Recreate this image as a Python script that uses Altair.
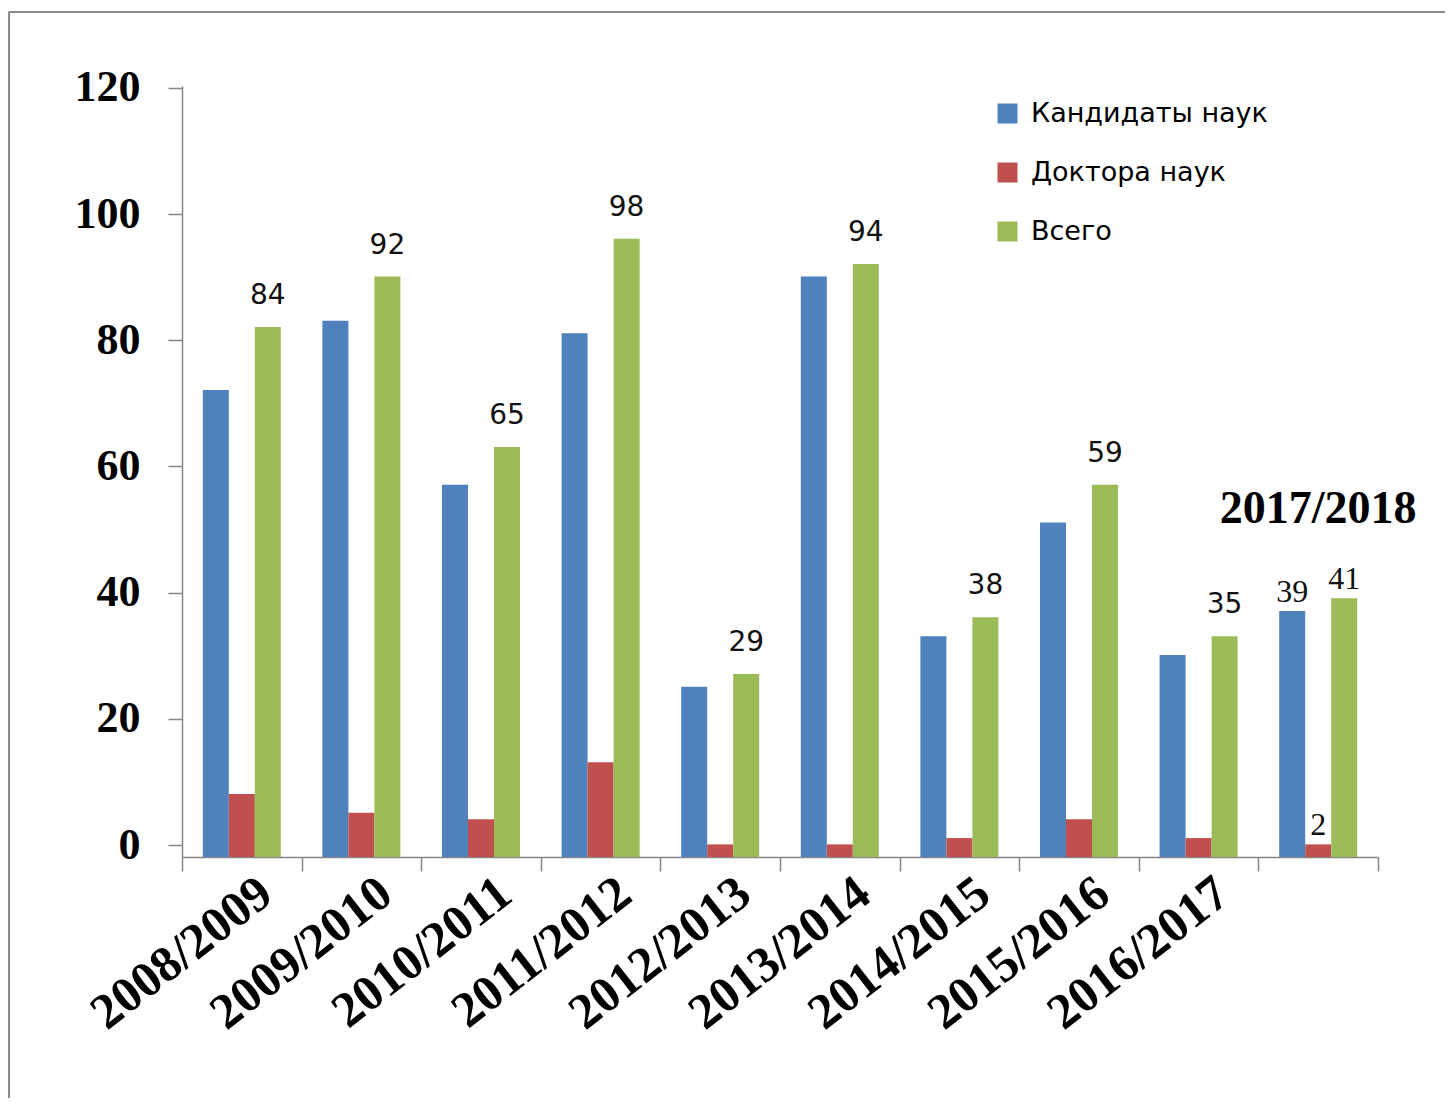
import altair as alt
import pandas as pd

categories = ["2008/2009", "2009/2010", "2010/2011", "2011/2012", "2012/2013",
              "2013/2014", "2014/2015", "2015/2016", "2016/2017", "2017/2018"]
series_names = ["Кандидаты наук", "Доктора наук", "Всего"]
candidates = [74, 85, 59, 83, 27, 92, 35, 53, 32, 39]
doctors = [10, 7, 6, 15, 2, 2, 3, 6, 3, 2]
totals = [84, 92, 65, 98, 29, 94, 38, 59, 35, 41]
colors = ["#4F81BD", "#C0504D", "#9BBB59"]
y_ticks = [0, 20, 40, 60, 80, 100, 120]
last_cat = "2017/2018"

rows = []
for s, vals in zip(series_names, [candidates, doctors, totals]):
    for c, v in zip(categories, vals):
        rows.append({"category": c, "series": s, "value": v})
df = pd.DataFrame(rows)

green_labels = df[(df["series"] == "Всего") & (df["category"] != last_cat)]
last_labels = df[df["category"] == last_cat]

x_enc = alt.X("category:N", sort=categories,
              scale=alt.Scale(paddingInner=0, paddingOuter=0),
              axis=alt.Axis(title=None, labelAngle=322, labelAlign="right",
                            labelBaseline="middle", labelOffset=24,
                            labelPadding=16, labelFont="Liberation Serif",
                            labelFontWeight="bold", labelFontSize=50,
                            labelColor="#000000", labelLimit=500,
                            labelOverlap=False, tickBand="extent",
                            tickSize=14, tickColor="#868686",
                            domainColor="#868686", domainWidth=1.5,
                            tickWidth=1.5,
                            labelExpr="datum.label == '2017/2018' ? '' : datum.label"))
xoff_enc = alt.XOffset("series:N", sort=series_names,
                       scale=alt.Scale(domain=series_names, paddingInner=0, paddingOuter=0.8))
y_enc = alt.Y("value:Q",
              scale=alt.Scale(domain=[0, 122.2], nice=False, zero=True),
              axis=alt.Axis(title=None, values=y_ticks, grid=False,
                            tickOffset=-12, tickSize=14, labelPadding=28,
                            labelFont="Liberation Serif", labelFontWeight="bold",
                            labelFontSize=44, labelColor="#000000",
                            tickColor="#868686", domainColor="#868686",
                            domainWidth=1.5, tickWidth=1.5))

bars = alt.Chart(df).mark_bar().encode(
    x=x_enc,
    xOffset=xoff_enc,
    y=y_enc,
    color=alt.Color("series:N", sort=series_names,
                    scale=alt.Scale(domain=series_names, range=colors),
                    legend=alt.Legend(title=None, orient="none", legendX=812,
                                      legendY=14, labelFont="DejaVu Sans",
                                      labelFontSize=27, labelColor="#000000",
                                      labelLimit=500,
                                      symbolType="square", symbolSize=400,
                                      symbolStrokeWidth=0, rowPadding=31,
                                      labelOffset=10)),
)

green_text = alt.Chart(green_labels).mark_text(
    font="DejaVu Sans", fontSize=28, color="#111111", baseline="alphabetic", dy=-23
).encode(
    x=alt.X("category:N", sort=categories),
    xOffset=alt.XOffset("series:N", sort=series_names),
    y=alt.Y("value:Q"),
    text=alt.Text("value:Q"),
)

last_text = alt.Chart(last_labels).mark_text(
    font="Liberation Serif", fontSize=32, color="#111111", baseline="alphabetic", dy=-9
).encode(
    x=alt.X("category:N", sort=categories),
    xOffset=alt.XOffset("series:N", sort=series_names),
    y=alt.Y("value:Q"),
    text=alt.Text("value:Q"),
)

title_df = pd.DataFrame({"category": [last_cat], "label": [last_cat]})
last_title = alt.Chart(title_df).mark_text(
    font="Liberation Serif", fontSize=46, fontWeight="bold", color="#000000",
    baseline="alphabetic"
).encode(
    x=alt.X("category:N", sort=categories),
    y=alt.value(437),
    text="label:N",
)

frame_df = pd.DataFrame({"k": [0]})
left_line = alt.Chart(frame_df).mark_rule(color="#8a8a8a", strokeWidth=2).encode(
    x=alt.value(-173), y=alt.value(-74), y2=alt.value(1012))
top_line = alt.Chart(frame_df).mark_rule(color="#8a8a8a", strokeWidth=2).encode(
    y=alt.value(-74), x=alt.value(-173), x2=alt.value(1263))

chart = alt.layer(bars, green_text, last_text, last_title, left_line, top_line).properties(
    width=1196, height=771,
    padding={"left": 174, "top": 78, "right": 67, "bottom": 241},
    autosize=alt.AutoSizeParams(type="none"),
    background="#ffffff",
).configure_view(strokeOpacity=0, strokeWidth=0)

chart.save("out.html", embed_options={"renderer": "svg", "actions": False})
